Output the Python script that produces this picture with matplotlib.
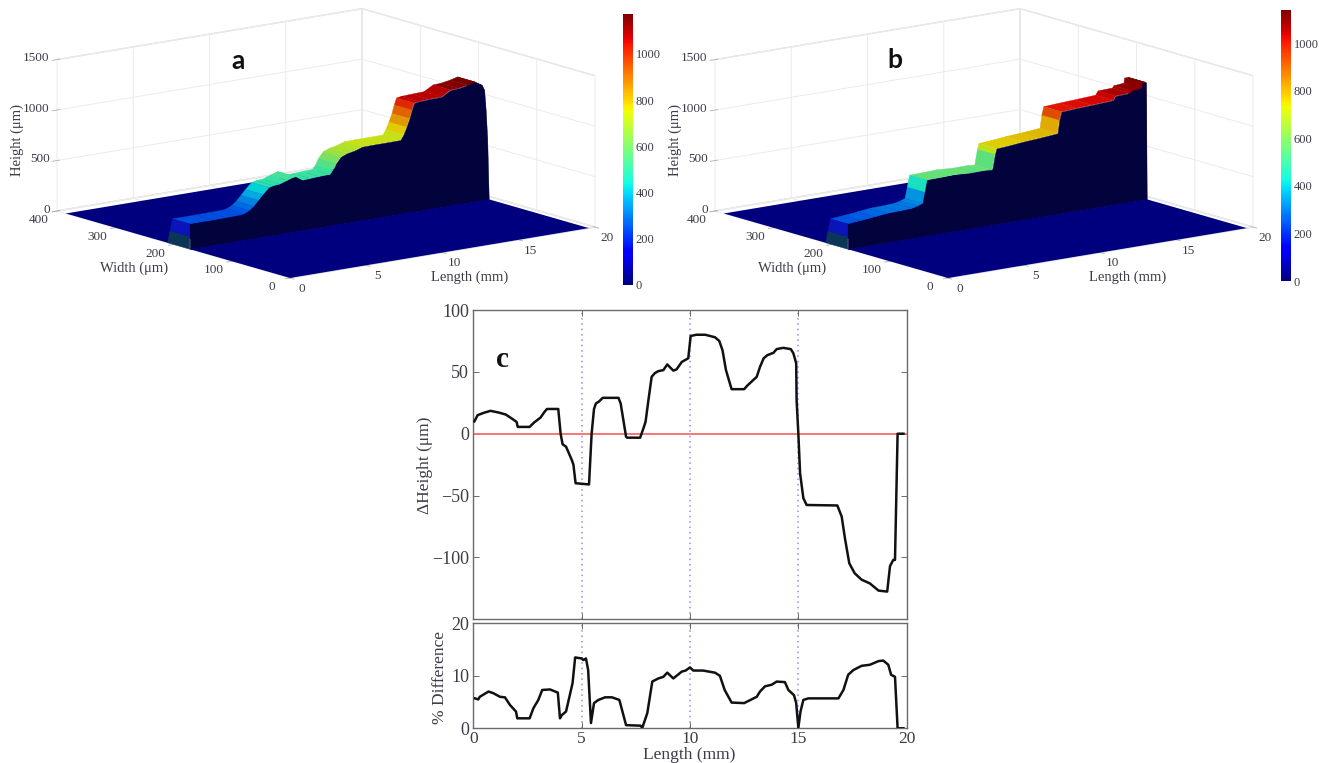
import matplotlib
matplotlib.use("Agg")
import matplotlib.pyplot as plt
import numpy as np
from matplotlib.cm import ScalarMappable
from matplotlib.colors import Normalize, to_rgba
from mpl_toolkits.mplot3d import proj3d
from mpl_toolkits.mplot3d.art3d import Poly3DCollection

# ── Data ──────────────────────────────────────────────────────────────────
length_a = [0, 0.8, 1.6, 2.4, 3.3, 3.6, 3.9, 4.2, 4.5, 4.8, 5.2, 5.5, 5.9, 6.4, 6.9, 7.4, 7.9, 8.5,
            9.2, 9.4, 9.6, 9.9, 10.3, 10.8, 11.3, 12, 12.8, 13.8, 14.0, 14.2, 14.4, 14.55, 14.7, 15,
            15.7, 16.5, 17.1, 17.6, 18.2, 18.7, 19.15, 19.3, 19.4, 19.5, 19.6]
height_a = [250, 250, 250, 252, 254, 262, 285, 320, 370, 420, 480, 490, 495, 520, 545, 495, 500, 505,
            508, 550, 610, 666, 690, 705, 730, 732, 732, 733, 780, 850, 930, 1010, 1077, 1085,
            1090, 1094, 1146, 1150, 1165, 1185, 1142, 1090, 889, 600, 0]

length_b = [0, 0.9, 1.8, 2.6, 3.4, 4.2, 4.6, 4.9, 5.05, 5.2, 6.0, 7.0, 8.0, 9.0, 9.47, 9.65,
            9.75, 10.5, 11.5, 12.5, 13.75, 13.87, 14.0, 15, 16, 17.4, 17.55, 18.5, 18.6, 19.25, 19.3,
            19.55, 19.6]
height_b = [250, 262, 275, 289, 292, 298, 312, 330, 440, 553, 555, 560, 550, 552, 544, 700,
            752, 760, 775, 785, 801, 930, 1009, 1018, 1025, 1037, 1075, 1080, 1100, 1110, 1159,
            1159, 0]

length_c = [0.05, 0.2, 0.5, 0.8, 1.2, 1.5, 1.8, 2.0, 2.05, 2.6, 2.8, 3.1, 3.3, 3.4, 3.92, 4.03, 4.12, 4.28,
            4.54, 4.62, 4.72, 5.34, 5.46, 5.57, 5.66, 5.8, 5.97, 6.7, 6.8, 7.05, 7.1, 7.7, 7.85, 7.95,
            8.08, 8.23, 8.38, 8.54, 8.77, 8.95, 9.23, 9.38, 9.62, 9.77, 9.92, 10.03, 10.3, 10.7, 11.15,
            11.35, 11.5, 11.66, 11.92, 12.5, 12.65, 13.08, 13.23, 13.4, 13.57, 13.85, 14, 14.3, 14.65,
            14.77, 14.9, 14.92, 15, 15.08, 15.23, 15.38, 16.8, 17, 17.15, 17.35, 17.6, 17.92, 18.3, 18.7,
            19.1, 19.23, 19.38, 19.46, 19.58, 19.85]
delta_height = [10, 15, 17, 18.5, 17, 15.5, 12, 9.5, 5.5, 5.5, 9, 13, 18, 20, 20, 0, -8.5, -10.5,
                -21, -25, -40, -41, 0, 20, 24.5, 26, 29, 29, 24.5, -2.5, -3.2, -3.2, 4.3, 9.7,
                27, 46, 49, 50.6, 51.4, 56, 51, 52, 58, 59.5, 61, 79, 80, 80, 78,
                75, 67.5, 51.4, 36, 36, 39, 46, 54, 61, 63.5, 65.4, 68.4, 69.4, 68.4,
                65, 57, 27, 0, -32, -52, -57.6, -58, -67, -84.5, -104.7, -112.8, -118, -121, -126.8,
                -127.6, -107, -102, -102, 0, 0]

length_pct = [0.08, 0.23, 0.3, 0.7, 0.92, 1.23, 1.46, 1.7, 1.97, 2.03, 2.6, 2.77, 3, 3.18, 3.54, 3.9, 4, 4.08,
              4.28, 4.58, 4.7, 5, 5.08, 5.2, 5.3, 5.43, 5.57, 5.77, 6.08, 6.4, 6.74, 7.05, 7.72, 7.8,
              8.03, 8.26, 8.54, 8.77, 8.95, 9.23, 9.62, 9.8, 10, 10.15, 10.6, 11.15, 11.38, 11.6, 11.92,
              12.5, 13.08, 13.23, 13.46, 13.77, 14, 14.38, 14.54, 14.8, 14.9, 15, 15.1, 15.23, 15.46,
              16.85, 17.08, 17.3, 17.54, 17.92, 18.3, 18.7, 18.92, 19.15, 19.28, 19.46, 19.58, 19.85]
pct_diff = [5.7, 5.5, 6, 7, 6.7, 6, 5.9, 4.4, 3.2, 1.9, 1.9, 3.8, 5.4, 7.3, 7.4, 6.8, 1.9, 2.5,
            3.2, 8.6, 13.5, 13.3, 13, 13.3, 11.1, 1, 4.8, 5.4, 5.9, 5.9, 5.4, 0.6, 0.5, 0.1,
            2.9, 8.9, 9.5, 9.8, 10.6, 9.5, 10.8, 11, 11.6, 11, 11, 10.6, 10, 7.3, 4.9,
            4.8, 6, 7, 8, 8.3, 8.9, 8.8, 7.3, 6.3, 4.8, 0.1, 3.2, 5.4, 5.7,
            5.7, 7.3, 10.2, 11.1, 11.9, 12.1, 12.8, 12.9, 12.1, 10.2, 9.8, 0, 0]

length_ticks = [0, 5, 10, 15, 20]
width_ticks = [0, 100, 200, 300, 400]
height_ticks = [0, 500, 1000, 1500]
cbar_ticks = [0, 200, 400, 600, 800, 1000]
delta_ticks = [-100, -50, 0, 50, 100]
pct_ticks = [0, 10, 20]

# ── Config ────────────────────────────────────────────────────────────────
FIG_W, FIG_H = 1319, 763
SERIF = "Liberation Serif"
TEXT = "#3c3c48"
FLOOR = "#00007e"
WALL = "#02023c"
SHADE = 0.88
RIDGE_W0, RIDGE_W1, RIDGE_BASE = 172, 202, 210
FLOOR_W, FLOOR_L = 385, 19.6

plt.rcParams["font.family"] = [SERIF, "DejaVu Sans"]
plt.rcParams["mathtext.fontset"] = "stix"


def px(x, y):
    return x / FIG_W, 1 - y / FIG_H


def box(l, t, r, b):
    return [l / FIG_W, 1 - b / FIG_H, (r - l) / FIG_W, (b - t) / FIG_H]


def project(ax, L, w, z):
    tx, ty, _ = proj3d.proj_transform(L, w, z, ax.get_proj())
    return ax.transData.transform((tx, ty))


def fit_axes(ax, front, right):
    """Scale and shift the 3D axes so the floor corners land on given pixels."""
    S = 600.0
    ax.set_position([0, 0, S / FIG_W, S / FIG_H])
    ax.apply_aspect()
    p0, p1 = project(ax, 0, 0, 0), project(ax, 20, 0, 0)
    S2 = S * (right[0] - front[0]) / (p1[0] - p0[0])
    # position of the front corner scales with the axes size
    l = front[0] - p0[0] * S2 / S
    b = (FIG_H - front[1]) - p0[1] * S2 / S
    ax.set_position([l / FIG_W, b / FIG_H, S2 / FIG_W, S2 / FIG_H])
    ax.apply_aspect()


def tick_text(fig, ax, L, w, z, label, ha):
    x, y = project(ax, L, w, z)
    fig.text(x / FIG_W, y / FIG_H, label, ha=ha, va="center", fontsize=9.5, color=TEXT)


def surf_panel(fig, length, height, vmax, dx):
    ax = fig.add_axes([0, 0, 0.4, 0.4], projection="3d", proj_type="ortho", computed_zorder=False)
    ax.set_facecolor("none")
    ax.view_init(elev=12.66, azim=232.7)
    ax.set_box_aspect((383, 384, 155))
    ax.set_xlim(0, 20)
    ax.set_ylim(0, 400)
    ax.set_zlim(0, 1500)
    ax.set_xticks(length_ticks)
    ax.set_yticks(width_ticks)
    ax.set_zticks(height_ticks)
    ax.set_xticklabels([])
    ax.set_yticklabels([])
    ax.set_zticklabels([])
    for axis in (ax.xaxis, ax.yaxis, ax.zaxis):
        axis.set_pane_color((1, 1, 1, 1))
        axis.pane.set_edgecolor("#dedede")
        axis.line.set_color((0, 0, 0, 0))
        axis._axinfo["grid"].update(color="#ebebeb", linewidth=0.7)
        axis._axinfo["tick"].update(color="#b0b0b0", linewidth={True: 0.6, False: 0.6})
    ax.tick_params(color="#b0b0b0", width=0.6, pad=0)

    cmap = plt.get_cmap("jet")
    norm = Normalize(0, vmax)
    L = np.array(length, dtype=float)
    H = np.array(height, dtype=float)

    # floor behind the ridge
    LL, WW = np.meshgrid([0, FLOOR_L], [RIDGE_BASE, FLOOR_W])
    ax.plot_surface(LL, WW, np.zeros_like(LL), color=FLOOR, shade=False, linewidth=0, zorder=1)

    # ridge top, flat colour from the first vertex of each cell
    LL, WW = np.meshgrid(L, [RIDGE_W0, RIDGE_W1])
    ZZ = np.vstack([H, H])
    colors = cmap(norm(H[:-1]))[None, :, :]
    colors[..., :3] *= SHADE
    ax.plot_surface(LL, WW, ZZ, facecolors=colors, shade=False, rstride=1, cstride=1,
                    linewidth=0.3, zorder=2)

    # end face at length 0
    WW = np.array([[RIDGE_W0, RIDGE_W1], [RIDGE_W0, (RIDGE_W1 + RIDGE_BASE) / 2], [RIDGE_W0, RIDGE_BASE]])
    ZZ = np.array([[H[0], H[0]], [H[0] * 0.5, H[0] * 0.5], [0, 0]])
    end_colors = np.array([[to_rgba("#0a14b8")], [to_rgba("#0c3658")]])
    ax.plot_surface(np.zeros_like(WW), WW, ZZ, facecolors=end_colors, shade=False, rstride=1, cstride=1,
                    linewidth=0.3, zorder=3)

    # dark front wall, one polygon so no seams show
    verts = [(l, RIDGE_W0, h) for l, h in zip(L, H)] + [(L[-1], RIDGE_W0, 0), (L[0], RIDGE_W0, 0)]
    wall = Poly3DCollection([verts], facecolors=WALL, edgecolors=WALL, linewidths=0.3, zorder=4)
    ax.add_collection3d(wall, autolim=False)

    # floor in front of the ridge
    LL, WW = np.meshgrid([0, FLOOR_L], [0, RIDGE_W0])
    ax.plot_surface(LL, WW, np.zeros_like(LL), color=FLOOR, shade=False, linewidth=0, zorder=5)

    fit_axes(ax, (290 + dx, 278), (595 + dx, 227))

    # tick labels placed through the axes projection
    for v in length_ticks:
        tick_text(fig, ax, v, -20, -75, str(v), "center")
    for v in width_ticks:
        tick_text(fig, ax, -1.2, v, -60, str(v), "center")
    for v in height_ticks:
        tick_text(fig, ax, -0.1, 410, v, str(v), "right")

    fig.text(*px(17 + dx, 140), "Height (μm)", rotation=90, ha="center", va="center", fontsize=10.5, color=TEXT)
    fig.text(*px(134 + dx, 268), "Width (μm)", ha="center", va="center", fontsize=10.5, color=TEXT)
    fig.text(*px(470 + dx, 277), "Length (mm)", ha="center", va="center", fontsize=10.5, color=TEXT)
    return ax, norm, cmap


def add_colorbar(fig, norm, cmap, rect):
    cax = fig.add_axes(box(*rect))
    cb = fig.colorbar(ScalarMappable(norm=norm, cmap=cmap), cax=cax, ticks=cbar_ticks)
    cb.outline.set_visible(False)
    cb.ax.tick_params(length=0, pad=2, labelsize=9, labelcolor=TEXT)


def style_2d(ax):
    for s in ax.spines.values():
        s.set_color("#6a6a6a")
        s.set_linewidth(1.0)
    ax.tick_params(direction="in", length=4, width=0.7, color="#6a6a6a", top=True, right=True,
                   labelsize=13, labelcolor=TEXT, pad=3)
    ax.set_xlim(0, 20)
    ax.set_xticks(length_ticks)
    for v in [5, 10, 15]:
        ax.axvline(v, color="#8c8cff", lw=1.1, ls=(0, (1, 2.5)), zorder=1)


# ── Main ──────────────────────────────────────────────────────────────────
fig = plt.figure(figsize=(FIG_W / 100, FIG_H / 100), dpi=100, facecolor="white")

ax_a, norm_a, cmap_a = surf_panel(fig, length_a, height_a, 1173, 0)
ax_b, norm_b, cmap_b = surf_panel(fig, length_b, height_b, 1139, 658)
add_colorbar(fig, norm_a, cmap_a, (623, 14, 633, 285))
add_colorbar(fig, norm_b, cmap_b, (1281, 10, 1291, 281))

ax_c = fig.add_axes(box(473.3, 310, 906.7, 619.3))
style_2d(ax_c)
ax_c.axhline(0, color="#ff6a6a", lw=1.3, zorder=2)
ax_c.plot(length_c, delta_height, color="#111111", lw=1.8, zorder=3)
ax_c.set_ylim(-150, 100)
ax_c.set_yticks(delta_ticks)
ax_c.set_yticklabels(["\u2212100", "\u221250", "0", "50", "100"])
ax_c.set_xticklabels([])

ax_d = fig.add_axes(box(473.3, 623.3, 906.7, 728.3))
style_2d(ax_d)
ax_d.plot(length_pct, pct_diff, color="#111111", lw=1.8, zorder=3)
ax_d.set_ylim(0, 20)
ax_d.set_yticks(pct_ticks)
ax_d.tick_params(axis="x", pad=2, labelsize=12.5)

fig.text(*px(425, 465), "ΔHeight (μm)", rotation=90, ha="center", va="center", fontsize=12.5, color=TEXT)
fig.text(*px(440, 677), "% Difference", rotation=90, ha="center", va="center", fontsize=12.5, color=TEXT)
fig.text(*px(689, 755), "Length (mm)", ha="center", va="center", fontsize=12.5, color=TEXT)

fig.text(*px(238, 61), "a", ha="center", va="center", fontsize=19, fontweight="bold", family="Lato", color="#111111")
fig.text(*px(895, 60), "b", ha="center", va="center", fontsize=19, fontweight="bold", family="Lato", color="#111111")
fig.text(*px(502, 360), "c", ha="center", va="center", fontsize=21, fontweight="bold", color="#111111")

plt.savefig("out.png", dpi=100)
